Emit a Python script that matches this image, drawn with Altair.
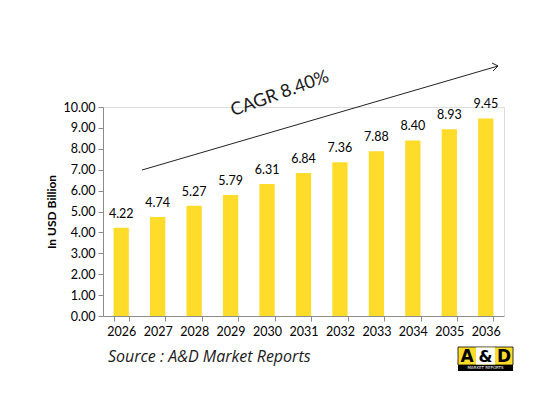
import altair as alt
import pandas as pd

years = ["2026", "2027", "2028", "2029", "2030", "2031", "2032", "2033", "2034", "2035", "2036"]
values = [4.22, 4.74, 5.27, 5.79, 6.31, 6.84, 7.36, 7.88, 8.40, 8.93, 9.45]
y_ticks = [0, 1, 2, 3, 4, 5, 6, 7, 8, 9, 10]

df = pd.DataFrame({"year": years, "value": values})
one = pd.DataFrame({"k": [0]})

FONT = "Lato"
W, H = 401, 209

base = alt.Chart(df).encode(
    x=alt.X("year:N", sort=years,
            scale=alt.Scale(paddingInner=0.58, paddingOuter=0.29),
            axis=alt.Axis(title=None, labelAngle=0, tickBand="extent", labelFontSize=12.5,
                          labelColor="#000000", labelFont=FONT, domainColor="#8c8c8c",
                          tickColor="#8c8c8c", tickSize=5, labelPadding=4)),
    y=alt.Y("value:Q", scale=alt.Scale(domain=[0, 10], nice=False),
            axis=alt.Axis(values=y_ticks, format=".2f", title="In USD Billion", grid=False,
                          labelFontSize=12.5, labelColor="#000000", labelFont=FONT,
                          domainColor="#8c8c8c", tickColor="#8c8c8c", tickSize=5,
                          titleFont=FONT, titleFontSize=12, titleFontWeight="bold",
                          titleColor="#000000", titlePadding=5, labelPadding=3)),
)

bars = base.mark_bar(color="#FFDC2A")
labels = base.mark_text(baseline="bottom", dy=-7, fontSize=12.5, font=FONT, color="#000000").encode(
    text=alt.Text("value:Q", format=".2f"))

ann = alt.Chart(one)
arrow = ann.mark_rule(color="#222222", strokeWidth=1).encode(
    x=alt.value(39), y=alt.value(63), x2=alt.value(395), y2=alt.value(-41))
arm1 = ann.mark_rule(color="#222222", strokeWidth=1).encode(
    x=alt.value(395), y=alt.value(-41), x2=alt.value(389), y2=alt.value(-44))
arm2 = ann.mark_rule(color="#222222", strokeWidth=1).encode(
    x=alt.value(395), y=alt.value(-41), x2=alt.value(390), y2=alt.value(-36))
cagr = ann.mark_text(text="CAGR 8.40%", angle=340, fontSize=18, font=FONT, color="#1a1a1a",
                     align="center", baseline="middle").encode(x=alt.value(177), y=alt.value(-13))
source = ann.mark_text(text="Source : A&D Market Reports", fontSize=16, font="Open Sans", fontStyle="italic",
                       color="#1a1a1a", align="left", baseline="alphabetic").encode(
    x=alt.value(5), y=alt.value(255))

logo_y1 = ann.mark_rect(color="#FFDC2A", stroke="#000000", strokeWidth=0.8).encode(
    x=alt.value(355), x2=alt.value(410), y=alt.value(240), y2=alt.value(258))
logo_w = ann.mark_rect(color="#FFFFFF").encode(
    x=alt.value(373), x2=alt.value(392), y=alt.value(240.5), y2=alt.value(257.5))
logo_b = ann.mark_rect(color="#000000").encode(
    x=alt.value(355), x2=alt.value(410), y=alt.value(258), y2=alt.value(264))
lA = ann.mark_text(text="A", fontSize=17, fontWeight="bold", font="DejaVu Sans", color="#000000",
                   align="center", baseline="middle").encode(x=alt.value(364), y=alt.value(249.5))
lAmp = ann.mark_text(text="&", fontSize=16, fontWeight="bold", font="DejaVu Sans", color="#000000",
                     align="center", baseline="middle").encode(x=alt.value(382.5), y=alt.value(249.5))
lD = ann.mark_text(text="D", fontSize=17, fontWeight="bold", font="DejaVu Sans", color="#000000",
                   align="center", baseline="middle").encode(x=alt.value(401), y=alt.value(249.5))
lM = ann.mark_text(text="MARKET REPORTS", fontSize=4, font="DejaVu Sans", color="#FFFFFF",
                   align="center", baseline="middle").encode(x=alt.value(382.5), y=alt.value(261))

chart = alt.layer(bars, labels, arrow, arm1, arm2, cagr, source,
                  logo_y1, logo_w, logo_b, lA, lAmp, lD, lM).properties(
    width=W, height=H,
    autosize=alt.AutoSizeParams(type="none"),
    padding={"left": 95, "top": 99, "right": 25, "bottom": 78},
).configure_view(stroke=None).configure(background="#FFFFFF")

chart.save("out.html", embed_options={"renderer": "svg", "actions": False})
